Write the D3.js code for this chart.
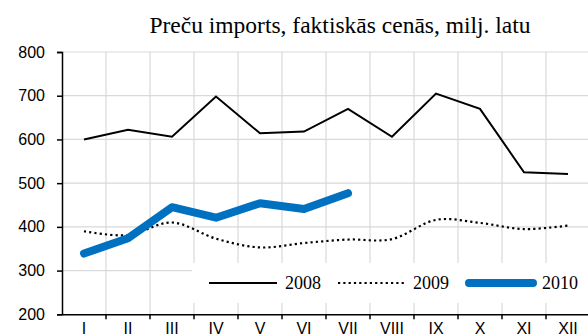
<!DOCTYPE html>
<html>
<head>
<meta charset="utf-8">
<script src="https://cdn.jsdelivr.net/npm/d3@7"></script>
<style>
  html, body { margin: 0; padding: 0; background: #fff; }
  svg { display: block; }
</style>
</head>
<body>
<svg id="chart" width="588" height="336"></svg>
<script>
// Monthly goods imports at actual prices, million lats
const months = ["I", "II", "III", "IV", "V", "VI", "VII", "VIII", "IX", "X", "XI", "XII"];
const imports2008 = [600, 622, 606, 698, 614, 618, 670, 606, 705, 670, 525, 521];
const imports2009 = [390, 381, 410, 373, 353, 363, 371, 372, 416, 409, 395, 403];
const imports2010 = [339, 374, 445, 421, 454, 441, 477];
const yTicks = [200, 300, 400, 500, 600, 700, 800];
const seriesNames = ["2008", "2009", "2010"];
const titleText = "Preču imports, faktiskās cenās, milj. latu";

const svg = d3.select("#chart");
const plotLeft = 62, plotRight = 590, plotTop = 52, plotBottom = 314.3;

const x = d3.scaleBand().domain(months).range([plotLeft, plotRight]).paddingInner(0).paddingOuter(0);
const y = d3.scaleLinear().domain([200, 800]).range([plotBottom, plotTop]);
const cx = m => x(m) + x.bandwidth() / 2;

// gridlines
const grid = svg.append("g").attr("stroke", "#d9d9d9").attr("stroke-width", 1.2);
yTicks.filter(t => t > 200).forEach(t => {
  grid.append("line").attr("x1", plotLeft).attr("x2", plotRight).attr("y1", y(t)).attr("y2", y(t));
});
months.slice(1).forEach(m => {
  grid.append("line").attr("x1", x(m)).attr("x2", x(m)).attr("y1", plotTop).attr("y2", plotBottom);
});

// legend background hides the grid beneath it
svg.append("rect").attr("x", 192).attr("y", 263).attr("width", 400).attr("height", 40).attr("fill", "#fff");

// axes
const yAxis = d3.axisLeft(y).tickValues(yTicks).tickSize(5).tickPadding(12).tickFormat(d3.format("d"));
const gy = svg.append("g").attr("transform", `translate(${plotLeft},0)`).call(yAxis);
gy.select(".domain").attr("stroke", "#000").attr("stroke-width", 1.5);
gy.selectAll(".tick line").attr("stroke", "#000").attr("stroke-width", 1.5);
gy.selectAll("text").attr("font-family", "Liberation Sans, Arial, sans-serif").attr("font-size", 16).attr("fill", "#000");

const xAxis = d3.axisBottom(x).tickSize(0).tickPadding(8);
const gx = svg.append("g").attr("transform", `translate(0,${plotBottom})`).call(xAxis);
gx.select(".domain").attr("stroke", "#000").attr("stroke-width", 1.5);
gx.selectAll("text").attr("font-family", "Liberation Sans, Arial, sans-serif").attr("font-size", 16).attr("fill", "#000");
// boundary tick marks between months
months.slice(1).forEach(m => {
  gx.append("line").attr("x1", x(m)).attr("x2", x(m)).attr("y1", 0).attr("y2", 5).attr("stroke", "#000").attr("stroke-width", 1.5);
});

// series lines
const dots = "2.2,3.1";
const line = d3.line().x((d, i) => cx(months[i])).y(d => y(d));
svg.append("path").datum(imports2008).attr("d", line)
  .attr("fill", "none").attr("stroke", "#000").attr("stroke-width", 2);
svg.append("path").datum(imports2009).attr("d", line.curve(d3.curveCardinal.tension(0)))
  .attr("fill", "none").attr("stroke", "#000").attr("stroke-width", 2.2).attr("stroke-dasharray", dots);
svg.append("path").datum(imports2010).attr("d", line.curve(d3.curveLinear))
  .attr("fill", "none").attr("stroke", "#0070c0").attr("stroke-width", 8)
  .attr("stroke-linecap", "round").attr("stroke-linejoin", "round");

// title
svg.append("text").attr("x", 340).attr("y", 33).attr("text-anchor", "middle")
  .attr("font-family", "Liberation Serif, Times New Roman, serif").attr("font-size", 23.5)
  .attr("fill", "#000").text(titleText);

// legend
const legendItems = [
  { name: seriesNames[0], x1: 209, x2: 277, stroke: "#000", width: 2, dash: null, cap: "butt" },
  { name: seriesNames[1], x1: 338, x2: 405, stroke: "#000", width: 2.2, dash: dots, cap: "butt" },
  { name: seriesNames[2], x1: 469, x2: 533, stroke: "#0070c0", width: 8, dash: null, cap: "round" }
];
const ly = 283;
const lg = svg.append("g");
legendItems.forEach(it => {
  lg.append("line").attr("x1", it.x1).attr("x2", it.x2).attr("y1", ly).attr("y2", ly)
    .attr("stroke", it.stroke).attr("stroke-width", it.width)
    .attr("stroke-dasharray", it.dash).attr("stroke-linecap", it.cap);
  lg.append("text").attr("x", it.x2 + (it.cap === "round" ? 9 : 8)).attr("y", ly + 6)
    .attr("font-family", "Liberation Serif, Times New Roman, serif").attr("font-size", 18)
    .attr("fill", "#000").text(it.name);
});
</script>
</body>
</html>
